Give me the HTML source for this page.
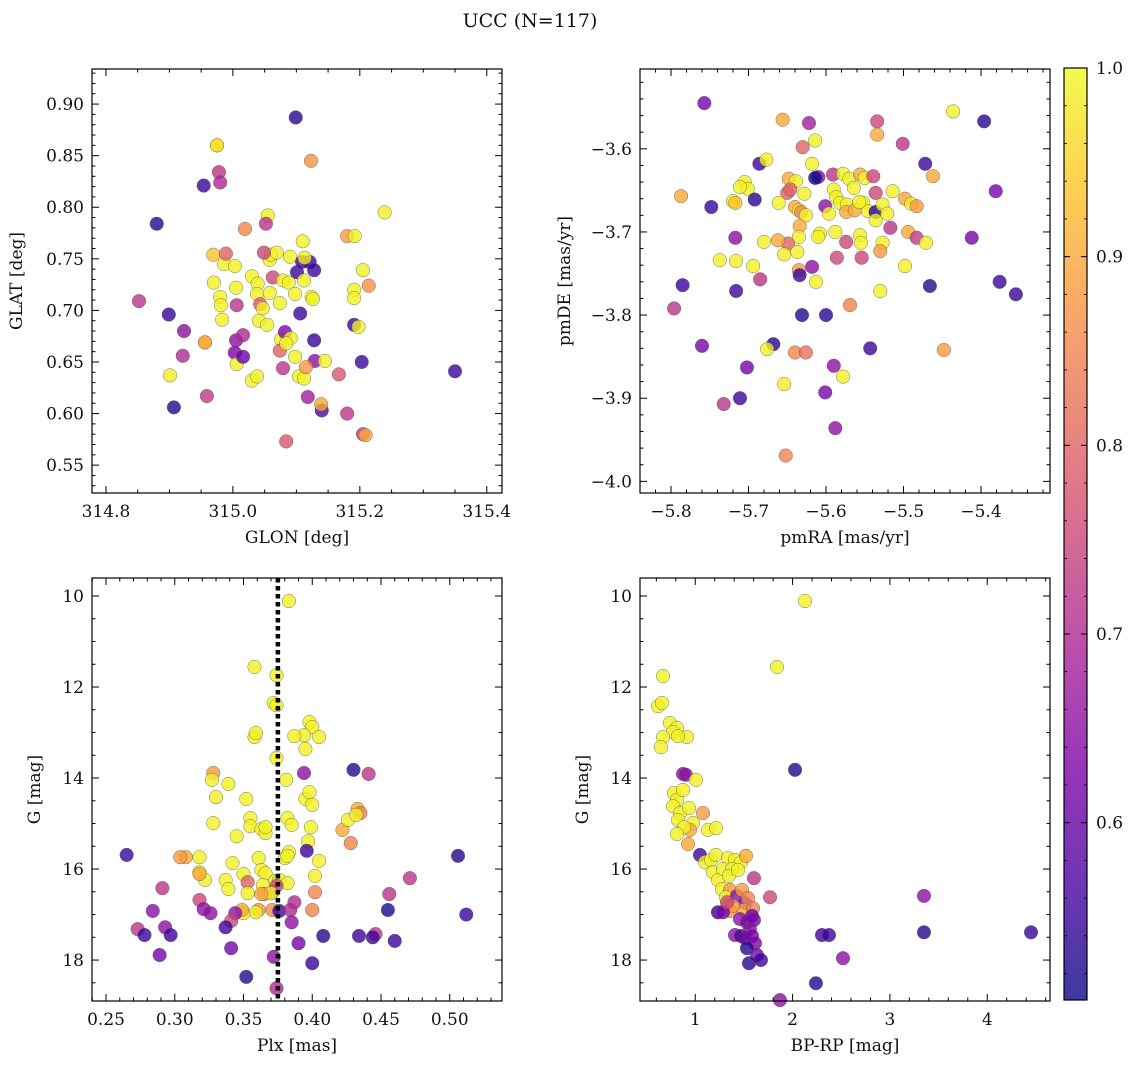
<!DOCTYPE html>
<html><head><meta charset="utf-8"><style>
body{margin:0;background:#fff;}
svg text{font-family:"DejaVu Serif","Liberation Serif",serif;fill:#111;}
</style></head><body>
<svg id="fig" width="1136" height="1068" viewBox="0 0 1136 1068" xmlns="http://www.w3.org/2000/svg">
<defs>
<linearGradient id="plasma" x1="0" y1="1" x2="0" y2="0">
<stop offset="0" stop-color="#0d0887"/><stop offset="0.125" stop-color="#4c02a1"/><stop offset="0.25" stop-color="#7e03a8"/><stop offset="0.375" stop-color="#a92395"/><stop offset="0.5" stop-color="#cc4778"/><stop offset="0.625" stop-color="#e66c5c"/><stop offset="0.75" stop-color="#f89540"/><stop offset="0.875" stop-color="#fdc527"/><stop offset="1" stop-color="#f0f921"/>
</linearGradient>
</defs>
<text x="530" y="27" text-anchor="middle" font-size="19">UCC (N=117)</text>
</svg>
<script>
// Panel 1: GLON / GLAT
const p1x=[314.852,314.880,314.899,314.901,314.907,314.921,314.923,314.954,314.956,314.959,314.975,314.978,314.980,314.969,314.970,314.980,314.981,314.983,314.986,314.989,315.003,315.005,315.006,315.005,315.003,315.006,315.016,315.030,315.038,315.019,315.016,315.030,315.039,315.038,315.043,315.047,315.041,315.054,315.058,315.060,315.063,315.058,315.069,315.079,315.074,315.076,315.079,315.090,315.088,315.098,315.101,315.109,315.121,315.113,315.128,315.112,315.124,315.106,315.082,315.091,315.098,315.104,315.112,315.128,315.129,315.115,315.118,315.140,315.139,315.145,315.126,315.084,315.074,315.084,315.167,315.180,315.191,315.191,315.191,315.198,315.203,315.205,315.205,315.209,315.214,315.099,314.975,315.123,315.055,315.052,315.049,315.239,315.180,315.192,315.110,315.350,314.956];
const p1y=[0.709,0.784,0.696,0.637,0.606,0.656,0.680,0.821,0.669,0.617,0.860,0.834,0.824,0.754,0.727,0.713,0.705,0.691,0.745,0.755,0.743,0.722,0.705,0.671,0.659,0.648,0.655,0.632,0.636,0.779,0.676,0.733,0.726,0.716,0.706,0.702,0.690,0.686,0.749,0.754,0.732,0.717,0.756,0.729,0.707,0.672,0.644,0.752,0.727,0.716,0.737,0.747,0.747,0.751,0.739,0.729,0.713,0.697,0.679,0.673,0.655,0.636,0.634,0.671,0.651,0.645,0.616,0.603,0.609,0.651,0.711,0.573,0.661,0.668,0.638,0.600,0.720,0.712,0.686,0.684,0.650,0.739,0.580,0.579,0.724,0.887,0.860,0.845,0.792,0.784,0.756,0.795,0.772,0.772,0.767,0.641,0.669];
const p1c=[0.72,0.53,0.55,0.98,0.53,0.70,0.65,0.55,0.92,0.73,0.97,0.72,0.70,0.93,0.99,0.99,0.99,0.99,0.99,0.80,0.99,0.99,0.72,0.65,0.63,0.99,0.60,0.99,0.99,0.85,0.70,0.99,0.99,0.99,0.78,0.99,0.99,0.99,0.99,0.99,0.75,0.99,0.99,0.99,0.99,0.99,0.72,0.99,0.99,0.99,0.55,0.55,0.55,0.99,0.55,0.99,0.99,0.55,0.63,0.99,0.99,0.99,0.99,0.55,0.65,0.88,0.68,0.57,0.90,0.99,0.99,0.78,0.80,0.99,0.78,0.72,0.99,0.99,0.55,0.99,0.55,0.99,0.72,0.90,0.87,0.53,0.97,0.87,0.99,0.72,0.75,0.99,0.88,0.99,0.99,0.55,0.90];
// Panel 2: pmRA / pmDE
const p2x=[-5.757,-5.436,-5.396,-5.656,-5.622,-5.534,-5.501,-5.534,-5.630,-5.614,-5.686,-5.677,-5.618,-5.610,-5.614,-5.591,-5.578,-5.570,-5.556,-5.550,-5.539,-5.564,-5.536,-5.472,-5.462,-5.381,-5.787,-5.748,-5.720,-5.717,-5.705,-5.701,-5.711,-5.692,-5.648,-5.639,-5.650,-5.646,-5.661,-5.640,-5.635,-5.632,-5.626,-5.628,-5.590,-5.587,-5.582,-5.601,-5.596,-5.573,-5.574,-5.563,-5.552,-5.546,-5.536,-5.527,-5.557,-5.536,-5.521,-5.514,-5.498,-5.490,-5.483,-5.517,-5.494,-5.527,-5.530,-5.556,-5.555,-5.554,-5.574,-5.588,-5.608,-5.610,-5.634,-5.635,-5.649,-5.654,-5.637,-5.618,-5.613,-5.586,-5.635,-5.634,-5.569,-5.530,-5.483,-5.471,-5.412,-5.376,-5.355,-5.466,-5.498,-5.785,-5.796,-5.716,-5.737,-5.694,-5.717,-5.716,-5.685,-5.680,-5.662,-5.668,-5.631,-5.600,-5.676,-5.640,-5.626,-5.760,-5.702,-5.654,-5.590,-5.578,-5.543,-5.448,-5.732,-5.711,-5.601,-5.588,-5.652];
const p2y=[-3.545,-3.555,-3.567,-3.565,-3.569,-3.567,-3.594,-3.583,-3.598,-3.590,-3.618,-3.613,-3.618,-3.634,-3.635,-3.631,-3.630,-3.636,-3.631,-3.635,-3.633,-3.647,-3.653,-3.618,-3.633,-3.651,-3.657,-3.670,-3.663,-3.665,-3.640,-3.648,-3.646,-3.661,-3.636,-3.639,-3.653,-3.649,-3.665,-3.670,-3.674,-3.676,-3.680,-3.654,-3.649,-3.658,-3.665,-3.669,-3.678,-3.667,-3.676,-3.674,-3.665,-3.675,-3.676,-3.667,-3.664,-3.686,-3.678,-3.651,-3.660,-3.666,-3.669,-3.695,-3.700,-3.713,-3.723,-3.704,-3.713,-3.731,-3.712,-3.700,-3.702,-3.706,-3.693,-3.706,-3.714,-3.727,-3.724,-3.742,-3.760,-3.731,-3.746,-3.752,-3.788,-3.771,-3.707,-3.713,-3.707,-3.760,-3.775,-3.765,-3.741,-3.764,-3.792,-3.735,-3.734,-3.741,-3.707,-3.771,-3.757,-3.712,-3.710,-3.835,-3.800,-3.800,-3.841,-3.845,-3.845,-3.837,-3.863,-3.883,-3.861,-3.874,-3.840,-3.842,-3.907,-3.900,-3.893,-3.936,-3.969];
const p2c=[0.62,0.99,0.53,0.90,0.68,0.75,0.72,0.90,0.80,0.99,0.55,0.99,0.99,0.65,0.50,0.72,0.99,0.99,0.90,0.99,0.75,0.99,0.75,0.55,0.90,0.62,0.90,0.55,0.99,0.93,0.99,0.99,0.99,0.53,0.90,0.99,0.80,0.80,0.99,0.90,0.99,0.85,0.99,0.99,0.99,0.99,0.99,0.65,0.99,0.99,0.90,0.90,0.99,0.99,0.53,0.99,0.99,0.99,0.99,0.99,0.90,0.99,0.88,0.72,0.90,0.99,0.88,0.99,0.99,0.75,0.75,0.99,0.99,0.99,0.90,0.99,0.80,0.99,0.99,0.65,0.99,0.75,0.88,0.55,0.85,0.99,0.73,0.99,0.62,0.55,0.55,0.53,0.99,0.55,0.72,0.99,0.99,0.99,0.65,0.55,0.72,0.99,0.90,0.53,0.53,0.53,0.99,0.85,0.82,0.62,0.62,0.99,0.65,0.99,0.55,0.88,0.72,0.55,0.62,0.65,0.85];
// Panel 3: Plx / G
const p3x=[0.383,0.358,0.374,0.372,0.374,0.358,0.359,0.398,0.400,0.405,0.394,0.395,0.387,0.374,0.381,0.394,0.430,0.441,0.328,0.327,0.339,0.352,0.355,0.355,0.363,0.366,0.330,0.328,0.345,0.366,0.382,0.385,0.395,0.398,0.400,0.399,0.397,0.396,0.383,0.380,0.382,0.405,0.422,0.426,0.433,0.435,0.432,0.428,0.361,0.363,0.366,0.373,0.364,0.376,0.382,0.342,0.350,0.371,0.365,0.353,0.353,0.337,0.322,0.318,0.308,0.304,0.318,0.339,0.387,0.374,0.370,0.363,0.361,0.359,0.350,0.349,0.344,0.371,0.376,0.384,0.400,0.402,0.402,0.318,0.318,0.321,0.326,0.291,0.341,0.337,0.341,0.352,0.265,0.273,0.278,0.284,0.293,0.297,0.289,0.372,0.385,0.390,0.400,0.374,0.408,0.434,0.446,0.444,0.455,0.460,0.456,0.471,0.506,0.512];
const p3y=[10.11,11.56,11.74,12.35,12.40,13.10,13.01,12.77,12.88,13.10,13.06,13.36,13.08,13.56,14.04,13.89,13.82,13.91,13.89,14.04,14.13,14.46,14.88,15.06,15.12,15.21,14.42,14.99,15.28,15.08,14.88,15.03,14.46,14.31,14.59,15.08,15.39,15.60,15.63,15.76,15.71,15.82,15.14,14.92,14.68,14.77,14.81,15.43,15.76,16.02,16.09,16.26,16.35,16.24,16.31,15.87,16.11,16.51,16.55,16.29,16.53,16.24,16.24,16.07,15.74,15.74,15.74,16.44,16.73,16.37,16.53,16.55,16.90,16.95,16.97,16.90,16.97,16.90,16.92,16.90,16.90,16.51,16.15,16.11,16.68,16.88,16.97,16.42,17.14,17.28,17.74,18.37,15.69,17.32,17.45,16.92,17.28,17.45,17.89,17.93,17.17,17.63,18.07,18.62,17.47,17.47,17.43,17.50,16.90,17.58,16.55,16.20,15.71,17.00];
const p3c=[0.99,0.99,0.99,0.99,0.99,0.99,0.99,0.99,0.99,0.99,0.99,0.99,0.99,0.99,0.99,0.65,0.53,0.72,0.88,0.99,0.99,0.99,0.99,0.99,0.99,0.99,0.99,0.99,0.99,0.99,0.99,0.99,0.99,0.99,0.99,0.99,0.99,0.55,0.99,0.99,0.99,0.99,0.90,0.99,0.90,0.85,0.99,0.85,0.99,0.99,0.99,0.99,0.99,0.99,0.99,0.99,0.99,0.80,0.88,0.80,0.99,0.99,0.99,0.99,0.90,0.88,0.99,0.99,0.70,0.75,0.99,0.90,0.88,0.99,0.99,0.90,0.65,0.87,0.55,0.70,0.85,0.85,0.99,0.90,0.75,0.65,0.65,0.72,0.75,0.55,0.62,0.53,0.55,0.72,0.55,0.65,0.65,0.55,0.62,0.65,0.65,0.62,0.55,0.70,0.53,0.55,0.72,0.55,0.52,0.55,0.72,0.72,0.53,0.55];
// Panel 4: BP-RP / G
const p4x=[2.127,0.668,1.840,0.617,0.658,0.740,0.812,0.771,0.668,0.647,0.915,0.822,2.025,0.874,0.904,1.007,0.781,0.812,0.874,0.771,0.843,0.822,0.935,1.079,0.976,0.945,0.884,0.925,0.812,1.130,1.213,1.048,1.100,1.161,1.213,1.336,1.408,1.470,1.521,1.182,1.233,1.285,1.377,1.346,1.439,1.274,1.357,1.315,1.428,1.480,1.511,1.542,1.500,1.593,1.336,1.357,1.387,1.233,1.285,1.326,1.459,1.531,1.603,1.408,1.470,1.511,1.562,1.583,1.613,1.531,1.634,1.552,1.675,1.768,1.583,1.870,2.240,2.518,2.302,2.374,3.350,3.350,4.450,1.603];
const p4y=[10.11,11.76,11.56,12.42,12.35,12.79,12.90,12.99,13.10,13.32,13.10,13.08,13.82,13.91,13.93,14.04,14.33,14.48,14.26,14.62,14.77,14.92,14.66,14.77,14.99,15.14,15.08,15.45,15.23,15.14,15.10,15.69,15.85,15.80,15.69,15.76,15.80,15.85,15.71,16.07,16.24,16.00,16.00,16.15,16.02,16.44,16.46,16.62,16.59,16.46,16.75,16.64,16.90,16.86,16.81,16.92,16.81,16.95,16.95,16.73,17.10,17.17,17.12,17.45,17.47,17.52,17.32,17.47,17.63,17.74,17.89,18.07,18.00,16.62,17.03,18.88,18.51,17.96,17.45,17.45,17.39,16.59,17.39,16.20];
const p4c=[0.99,0.99,0.99,0.99,0.99,0.99,0.99,0.99,0.99,0.99,0.99,0.99,0.53,0.65,0.65,0.99,0.99,0.99,0.99,0.99,0.99,0.99,0.99,0.88,0.99,0.90,0.99,0.90,0.99,0.99,0.99,0.55,0.99,0.99,0.99,0.99,0.99,0.99,0.90,0.99,0.99,0.99,0.99,0.99,0.99,0.99,0.88,0.99,0.65,0.88,0.65,0.85,0.90,0.85,0.88,0.88,0.88,0.55,0.62,0.75,0.65,0.62,0.62,0.65,0.55,0.62,0.65,0.62,0.63,0.53,0.62,0.53,0.55,0.75,0.62,0.65,0.53,0.65,0.55,0.55,0.53,0.65,0.55,0.72];
const cbTicks=[0.6,0.7,0.8,0.9,1.0];
const CMIN=0.506, CMAX=1.0;

const NS="http://www.w3.org/2000/svg";
const svg=document.getElementById('fig');
const stops=[[13,8,135],[76,2,161],[126,3,168],[169,35,149],[204,71,120],[230,108,92],[248,149,64],[253,197,39],[240,249,33]];
function cmap(v){let t=(v-CMIN)/(CMAX-CMIN);t=Math.max(0,Math.min(1,t));const f=t*8,i=Math.min(7,Math.floor(f)),r=f-i;const a=stops[i],b=stops[i+1];return 'rgb('+a.map((x,k)=>Math.round(x+(b[k]-x)*r)).join(',')+')';}
function el(tag,attrs,parent){const e=document.createElementNS(NS,tag);for(const k in attrs)e.setAttribute(k,attrs[k]);(parent||svg).appendChild(e);return e;}
function fmt(v,d){let s=v.toFixed(d);return s.replace('-','\u2212');}

function panel(o){
  const g=el('g',{});
  
  
  const sx=v=>o.L+(v-o.x0)/(o.x1-o.x0)*(o.R-o.L);
  const sy=o.invert?(v=>o.T+(v-o.y0)/(o.y1-o.y0)*(o.B-o.T)):(v=>o.B-(v-o.y0)/(o.y1-o.y0)*(o.B-o.T));
  for(let i=0;i<o.xs.length;i++){
    const c=el('circle',{cx:sx(o.xs[i]),cy:sy(o.ys[i]),r:6.8,fill:cmap(o.cs[i]),'fill-opacity':0.8,stroke:'#555','stroke-width':0.4},g);
    
    
  }
  if(o.vline!==undefined){
    const l=el('line',{x1:sx(o.vline),x2:sx(o.vline),y1:o.T,y2:o.B,stroke:'#000','stroke-width':4.5,'stroke-dasharray':'4.5 3.5'},g);
    
    
  }
  const fr=el('rect',{x:o.L,y:o.T,width:o.R-o.L,height:o.B-o.T,fill:'none',stroke:'#000','stroke-width':1.2},g);
  
  
  const eps=1e-9;
  const lo=Math.min(o.x0,o.x1),hi=Math.max(o.x0,o.x1);
  for(let v=Math.ceil(lo/o.xmin-eps)*o.xmin;v<=hi+eps;v+=o.xmin){
    const isMaj=Math.abs(v/o.xmaj-Math.round(v/o.xmaj))<1e-6;const len=isMaj?7:3.5;const x=sx(v);
    el('line',{x1:x,x2:x,y1:o.B,y2:o.B-len,stroke:'#000','stroke-width':1},g);
    el('line',{x1:x,x2:x,y1:o.T,y2:o.T+len,stroke:'#000','stroke-width':1},g);
    if(isMaj){const t=el('text',{x:x,y:o.B+24,'text-anchor':'middle','font-size':17},g);t.textContent=fmt(v,o.xd);
      
      }
  }
  const ylo=Math.min(o.y0,o.y1),yhi=Math.max(o.y0,o.y1);
  for(let v=Math.ceil(ylo/o.ymin-eps)*o.ymin;v<=yhi+eps;v+=o.ymin){
    const isMaj=Math.abs(v/o.ymaj-Math.round(v/o.ymaj))<1e-6;const len=isMaj?7:3.5;const y=sy(v);
    el('line',{x1:o.L,x2:o.L+len,y1:y,y2:y,stroke:'#000','stroke-width':1},g);
    el('line',{x1:o.R,x2:o.R-len,y1:y,y2:y,stroke:'#000','stroke-width':1},g);
    if(isMaj){const t=el('text',{x:o.L-8,y:y+6,'text-anchor':'end','font-size':17},g);t.textContent=fmt(v,o.yd);
      
      }
  }
  const xl=el('text',{x:(o.L+o.R)/2,y:o.B+50,'text-anchor':'middle','font-size':17},g);xl.textContent=o.xlabel;
  
  
  const yx=o.L-o.ylOff, yy=(o.T+o.B)/2;
  const yl=el('text',{x:yx,y:yy,'text-anchor':'middle','font-size':17,transform:'rotate(-90 '+yx+' '+yy+')'},g);yl.textContent=o.ylabel;
  
  
}
panel({name:'glon-glat-panel',L:92,R:502,T:69,B:493,x0:314.778,x1:315.424,y0:0.523,y1:0.934,xs:p1x,ys:p1y,cs:p1c,xmaj:0.2,xmin:0.05,ymaj:0.05,ymin:0.01,xd:1,yd:2,xlabel:'GLON [deg]',ylabel:'GLAT [deg]',ylOff:70});
panel({name:'pm-panel',L:640,R:1050,T:69,B:493,x0:-5.840,x1:-5.311,y0:-4.014,y1:-3.504,xs:p2x,ys:p2y,cs:p2c,xmaj:0.1,xmin:0.02,ymaj:0.1,ymin:0.02,xd:1,yd:1,xlabel:'pmRA [mas/yr]',ylabel:'pmDE [mas/yr]',ylOff:70});
panel({name:'plx-g-panel',L:92,R:502,T:578,B:1001,x0:0.2398,x1:0.538,y0:9.604,y1:18.90,invert:true,xs:p3x,ys:p3y,cs:p3c,xmaj:0.05,xmin:0.01,ymaj:2,ymin:0.5,xd:2,yd:0,xlabel:'Plx [mas]',ylabel:'G [mag]',ylOff:52,vline:0.375});
panel({name:'cmd-panel',L:640,R:1050,T:578,B:1001,x0:0.432,x1:4.645,y0:9.604,y1:18.90,invert:true,xs:p4x,ys:p4y,cs:p4c,xmaj:1,xmin:0.2,ymaj:2,ymin:0.5,xd:0,yd:0,xlabel:'BP-RP [mag]',ylabel:'G [mag]',ylOff:52});

const cb=el('g',{});


const cT=68,cB=1000,cL=1064,cR=1087;
el('rect',{x:cL,y:cT,width:cR-cL,height:cB-cT,fill:'url(#plasma)','fill-opacity':0.8},cb);
el('rect',{x:cL,y:cT,width:cR-cL,height:cB-cT,fill:'none',stroke:'#000','stroke-width':1.2},cb);
const cy=v=>cB-(v-CMIN)/(CMAX-CMIN)*(cB-cT);
for(const v of cbTicks){
  const y=cy(v);
  el('line',{x1:cR,x2:cR-6,y1:y,y2:y,stroke:'#000','stroke-width':1},cb);
  el('line',{x1:cL,x2:cL+6,y1:y,y2:y,stroke:'#000','stroke-width':1},cb);
  const t=el('text',{x:cR+9,y:y+6,'font-size':17},cb);t.textContent=v.toFixed(1);
  
  
}
for(let v=0.52;v<1.0;v+=0.02){const y=cy(v);el('line',{x1:cR,x2:cR-3,y1:y,y2:y,stroke:'#000','stroke-width':0.8},cb);el('line',{x1:cL,x2:cL+3,y1:y,y2:y,stroke:'#000','stroke-width':0.8},cb);}
</script>
</body></html>
